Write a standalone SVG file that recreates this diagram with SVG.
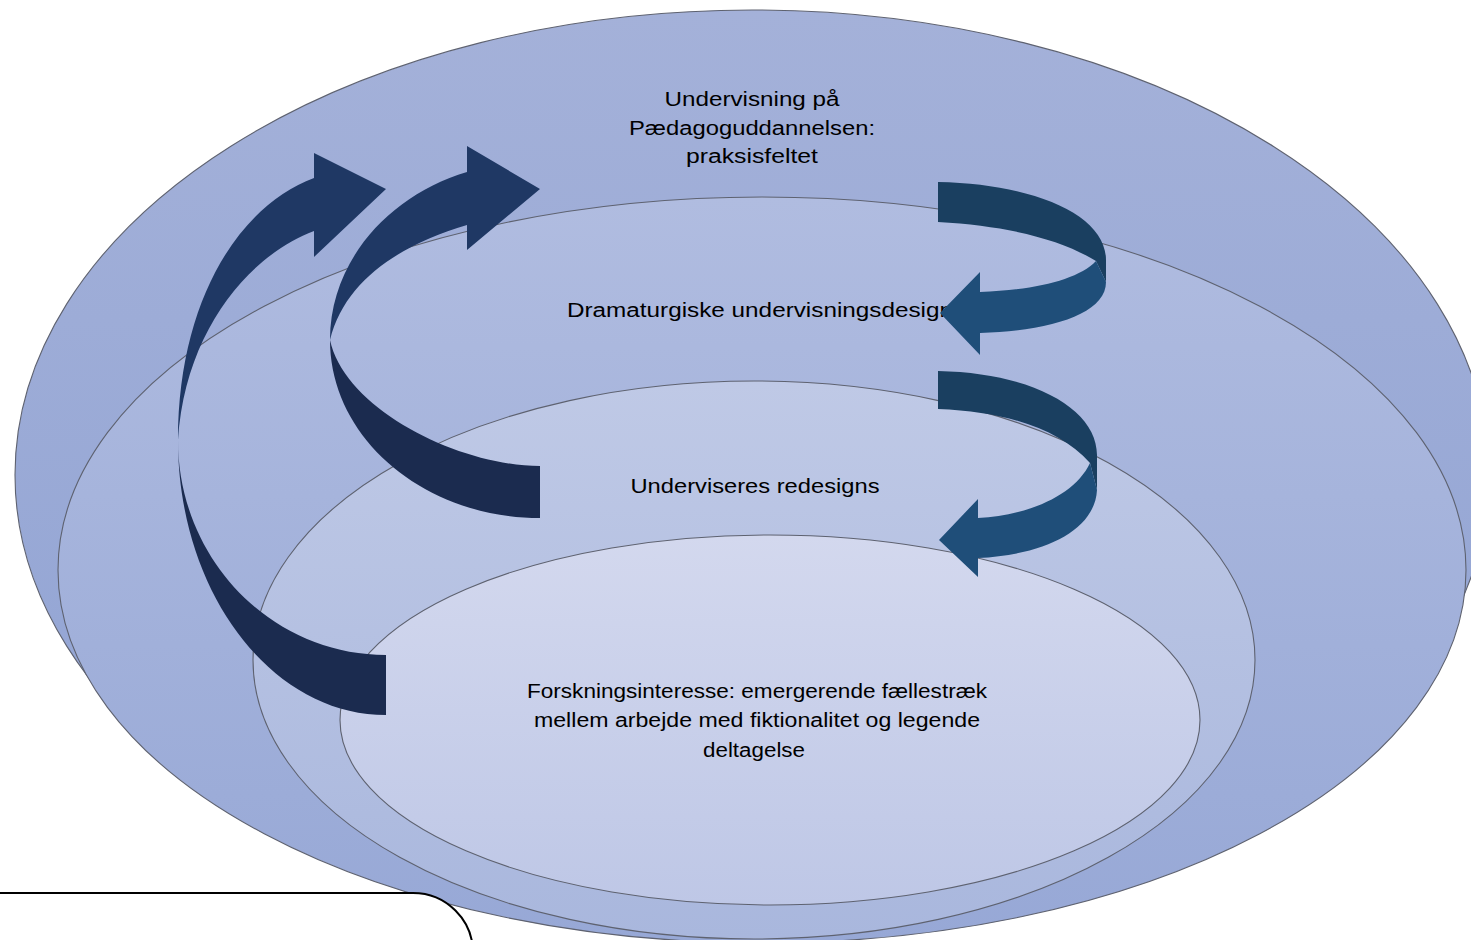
<svg xmlns="http://www.w3.org/2000/svg" width="1471" height="940" viewBox="0 0 1471 940">
<defs>
<linearGradient id="g1" x1="0" y1="0" x2="0" y2="1"><stop offset="0" stop-color="#A4B1D9"/><stop offset="1" stop-color="#8FA2D3"/></linearGradient>
<linearGradient id="g2" x1="0" y1="0" x2="0" y2="1"><stop offset="0" stop-color="#B0BCE0"/><stop offset="1" stop-color="#97A8D6"/></linearGradient>
<linearGradient id="g3" x1="0" y1="0" x2="0" y2="1"><stop offset="0" stop-color="#BFC9E6"/><stop offset="1" stop-color="#A9B7DD"/></linearGradient>
<linearGradient id="g4" x1="0" y1="0" x2="0" y2="1"><stop offset="0" stop-color="#D3D8EE"/><stop offset="1" stop-color="#BEC7E6"/></linearGradient>
</defs>
<style>
.ring{stroke:#5E6270;stroke-width:1.1}
.lbl{font-family:"Liberation Sans",Arial,sans-serif;font-size:20px;fill:#000;text-anchor:middle}
.navyF{fill:#1F3864}
.navyB{fill:#1B2B4F}
.tealF{fill:#1F4E79}
.tealB{fill:#1A3F60}
</style>
<g id="ring-outer"><ellipse class="ring" cx="752" cy="475" rx="737" ry="465" fill="url(#g1)"/></g>
<g id="ring-2"><ellipse class="ring" cx="762" cy="570" rx="704" ry="373" fill="url(#g2)"/></g>
<g id="ring-3"><ellipse class="ring" cx="754" cy="660" rx="501" ry="279" fill="url(#g3)"/></g>
<g id="ring-4"><ellipse class="ring" cx="770" cy="720" rx="430" ry="185" fill="url(#g4)"/></g>
<g id="labels">
<text class="lbl" x="752" y="106" textLength="175" lengthAdjust="spacingAndGlyphs">Undervisning på</text>
<text class="lbl" x="752" y="135" textLength="246" lengthAdjust="spacingAndGlyphs">Pædagoguddannelsen:</text>
<text class="lbl" x="752" y="163" textLength="132" lengthAdjust="spacingAndGlyphs">praksisfeltet</text>
<text class="lbl" x="760" y="317" textLength="386" lengthAdjust="spacingAndGlyphs">Dramaturgiske undervisningsdesign</text>
<text class="lbl" x="755" y="493" textLength="249" lengthAdjust="spacingAndGlyphs">Underviseres redesigns</text>
<text class="lbl" x="757" y="698" textLength="460" lengthAdjust="spacingAndGlyphs">Forskningsinteresse: emergerende fællestræk</text>
<text class="lbl" x="757" y="727" textLength="446" lengthAdjust="spacingAndGlyphs">mellem arbejde med fiktionalitet og legende</text>
<text class="lbl" x="754" y="757" textLength="102" lengthAdjust="spacingAndGlyphs">deltagelse</text>
</g>
<g id="connectors">
<g id="arrow-outer-left">
<path class="navyB" d="M178,440 C178,592 271,715 386,715 L386,655 C271,655 178,559 178,440 Z"/>
<path class="navyF" d="M178,440 C178,300 240,205 314,178 L314,153 L386,189 L314,257 L314,231 C250,255 185,330 178,440 Z"/>
</g>
<g id="arrow-inner-left">
<path class="navyB" d="M330,340 C330,438 424,518 540,518 L540,466 C460,466 345,410 330,340 Z"/>
<path class="navyF" d="M330,340 C330,260 390,195 467,172 L467,146 L540,189 L467,250 L467,225 C400,245 345,280 330,340 Z"/>
</g>
<g id="arrow-right-upper">
<path class="tealB" d="M938,182 C1035,184 1106,215 1106,260 L1106,282 L1096,261 C1062,240 1010,226 938,222 Z"/>
<path class="tealF" d="M1096,261 L1106,282 C1106,314 1050,331 980,333 L980,355 L940,313 L980,272 L980,292 C1034,290 1078,280 1096,261 Z"/>
</g>
<g id="arrow-right-lower">
<path class="tealB" d="M938,371 C1035,373 1097,410 1097,455 L1097,490 L1090,463 C1060,430 1010,412 938,409 Z"/>
<path class="tealF" d="M1090,463 L1097,490 C1095,530 1045,555 978,558 L978,577 L939,540 L978,499 L978,518 C1030,515 1075,495 1090,463 Z"/>
</g>
</g>
<g id="note-box">
<path d="M-5,893 H413 A60,60 0 0 1 473,953 V960 H-5 Z" fill="#FFFFFF" stroke="#000" stroke-width="2"/>
</g>
</svg>
